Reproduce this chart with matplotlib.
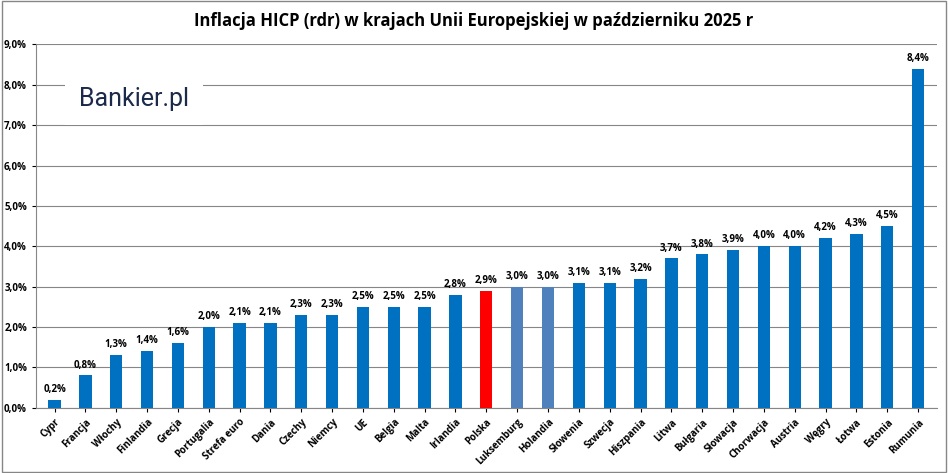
import matplotlib.pyplot as plt
import numpy as np

countries = ["Cypr", "Francja", "Włochy", "Finlandia", "Grecja", "Portugalia", "Strefa euro",
             "Dania", "Czechy", "Niemcy", "UE", "Belgia", "Malta", "Irlandia", "Polska",
             "Luksemburg", "Holandia", "Słowenia", "Szwecja", "Hiszpania", "Litwa", "Bułgaria",
             "Słowacja", "Chorwacja", "Austria", "Węgry", "Łotwa", "Estonia", "Rumunia"]
values = [0.2, 0.8, 1.3, 1.4, 1.6, 2.0, 2.1, 2.1, 2.3, 2.3, 2.5, 2.5, 2.5, 2.8, 2.9,
          3.0, 3.0, 3.1, 3.1, 3.2, 3.7, 3.8, 3.9, 4.0, 4.0, 4.2, 4.3, 4.5, 8.4]

colors = []
for c in countries:
    if c == "Polska":
        colors.append("#FF0000")
    elif c in ("Luksemburg", "Holandia"):
        colors.append("#4F81BD")
    else:
        colors.append("#0070C0")

plt.rcParams["font.family"] = ["Open Sans", "DejaVu Sans"]
fig = plt.figure(figsize=(9.48, 4.73), dpi=100)
ax = fig.add_axes([0.038, 0.138, 0.95, 0.768])

x = np.arange(len(countries))
ax.bar(x, values, width=0.4, color=colors, zorder=3)
for xi, v in zip(x, values):
    ax.text(xi, v + 0.12, f"{v:.1f}%".replace(".", ","), ha="center", va="bottom",
            fontsize=7, fontweight="bold")

ax.set_ylim(0, 9)
ax.set_xlim(-0.6, len(countries) - 0.4)
ax.set_yticks(np.arange(0, 9.1, 1))
ax.set_yticklabels([f"{t:.1f}%".replace(".", ",") for t in np.arange(0, 9.1, 1)],
                   fontsize=7, fontweight="bold")
ax.set_xticks(x)
ax.set_xticklabels(countries, rotation=45, ha="right", rotation_mode="anchor",
                   fontsize=7, fontweight="bold")
ax.yaxis.grid(True, color="#868686", linewidth=0.8, zorder=0)
ax.tick_params(axis="both", length=3)
for s in ["top", "right"]:
    ax.spines[s].set_visible(False)
ax.spines["left"].set_color("#868686")
ax.spines["bottom"].set_color("#868686")

fig.text(0.5, 0.955, "Inflacja HICP (rdr) w krajach Unii Europejskiej w październiku 2025 r",
         ha="center", va="center", fontsize=12, fontweight="bold")
fig.text(0.083, 0.79, "Bankier.pl", fontsize=18, color="#1b2a4a",
         family="Roboto", va="center",
         bbox=dict(facecolor="white", edgecolor="none", pad=10))

border = plt.Rectangle((0.002, 0.002), 0.996, 0.996, transform=fig.transFigure,
                       fill=False, edgecolor="#868686", linewidth=1)
fig.add_artist(border)
fig.savefig("out.png", dpi=100)
